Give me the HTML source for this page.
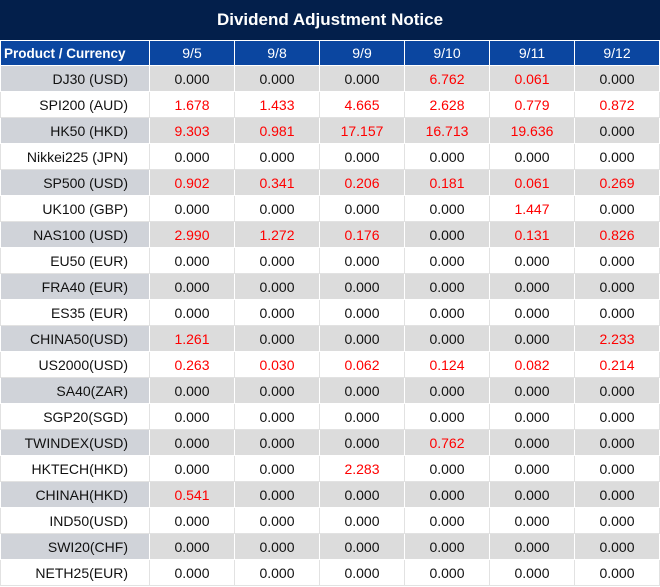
<!DOCTYPE html><html><head><style>
body{margin:0;background:#fff;font-family:"Liberation Sans","DejaVu Sans",sans-serif;}
.t{position:absolute;left:0;top:0;width:660px;height:40px;background:#031f4b;color:#fff;font-weight:bold;font-size:17px;text-align:center;line-height:40px;}
table{position:absolute;left:0;top:40px;border-collapse:collapse;table-layout:fixed;width:659px;}
td{height:25px;padding:0;border:1px solid #e2e2e2;font-size:14px;text-align:center;color:#111;white-space:nowrap;overflow:hidden;}
tr.h td{background:#0b46a0;color:#fff;border-color:#fff;height:24px;}
tr.h td:first-child{font-weight:bold;text-align:left;padding-left:3px;font-size:13.5px;}
td:first-child{text-align:right;padding-right:21px;}
tr.g td{background:#dcdcdc;border-color:#fff;}
tr.g td:first-child{background:#d0d3d9;}
.r{color:#f00;}
</style></head><body>
<div class="t">Dividend Adjustment Notice</div>
<table>
<colgroup><col style="width:149px"><col style="width:85px"><col style="width:85px"><col style="width:85px"><col style="width:85px"><col style="width:85px"><col style="width:85px"></colgroup>
<tr class="h"><td>Product / Currency</td><td>9/5</td><td>9/8</td><td>9/9</td><td>9/10</td><td>9/11</td><td>9/12</td></tr>
<tr class="g"><td>DJ30 (USD)</td><td>0.000</td><td>0.000</td><td>0.000</td><td class="r">6.762</td><td class="r">0.061</td><td>0.000</td></tr>
<tr><td>SPI200 (AUD)</td><td class="r">1.678</td><td class="r">1.433</td><td class="r">4.665</td><td class="r">2.628</td><td class="r">0.779</td><td class="r">0.872</td></tr>
<tr class="g"><td>HK50 (HKD)</td><td class="r">9.303</td><td class="r">0.981</td><td class="r">17.157</td><td class="r">16.713</td><td class="r">19.636</td><td>0.000</td></tr>
<tr><td>Nikkei225 (JPN)</td><td>0.000</td><td>0.000</td><td>0.000</td><td>0.000</td><td>0.000</td><td>0.000</td></tr>
<tr class="g"><td>SP500 (USD)</td><td class="r">0.902</td><td class="r">0.341</td><td class="r">0.206</td><td class="r">0.181</td><td class="r">0.061</td><td class="r">0.269</td></tr>
<tr><td>UK100 (GBP)</td><td>0.000</td><td>0.000</td><td>0.000</td><td>0.000</td><td class="r">1.447</td><td>0.000</td></tr>
<tr class="g"><td>NAS100 (USD)</td><td class="r">2.990</td><td class="r">1.272</td><td class="r">0.176</td><td>0.000</td><td class="r">0.131</td><td class="r">0.826</td></tr>
<tr><td>EU50 (EUR)</td><td>0.000</td><td>0.000</td><td>0.000</td><td>0.000</td><td>0.000</td><td>0.000</td></tr>
<tr class="g"><td>FRA40 (EUR)</td><td>0.000</td><td>0.000</td><td>0.000</td><td>0.000</td><td>0.000</td><td>0.000</td></tr>
<tr><td>ES35 (EUR)</td><td>0.000</td><td>0.000</td><td>0.000</td><td>0.000</td><td>0.000</td><td>0.000</td></tr>
<tr class="g"><td>CHINA50(USD)</td><td class="r">1.261</td><td>0.000</td><td>0.000</td><td>0.000</td><td>0.000</td><td class="r">2.233</td></tr>
<tr><td>US2000(USD)</td><td class="r">0.263</td><td class="r">0.030</td><td class="r">0.062</td><td class="r">0.124</td><td class="r">0.082</td><td class="r">0.214</td></tr>
<tr class="g"><td>SA40(ZAR)</td><td>0.000</td><td>0.000</td><td>0.000</td><td>0.000</td><td>0.000</td><td>0.000</td></tr>
<tr><td>SGP20(SGD)</td><td>0.000</td><td>0.000</td><td>0.000</td><td>0.000</td><td>0.000</td><td>0.000</td></tr>
<tr class="g"><td>TWINDEX(USD)</td><td>0.000</td><td>0.000</td><td>0.000</td><td class="r">0.762</td><td>0.000</td><td>0.000</td></tr>
<tr><td>HKTECH(HKD)</td><td>0.000</td><td>0.000</td><td class="r">2.283</td><td>0.000</td><td>0.000</td><td>0.000</td></tr>
<tr class="g"><td>CHINAH(HKD)</td><td class="r">0.541</td><td>0.000</td><td>0.000</td><td>0.000</td><td>0.000</td><td>0.000</td></tr>
<tr><td>IND50(USD)</td><td>0.000</td><td>0.000</td><td>0.000</td><td>0.000</td><td>0.000</td><td>0.000</td></tr>
<tr class="g"><td>SWI20(CHF)</td><td>0.000</td><td>0.000</td><td>0.000</td><td>0.000</td><td>0.000</td><td>0.000</td></tr>
<tr><td>NETH25(EUR)</td><td>0.000</td><td>0.000</td><td>0.000</td><td>0.000</td><td>0.000</td><td>0.000</td></tr>
</table>
</body></html>
